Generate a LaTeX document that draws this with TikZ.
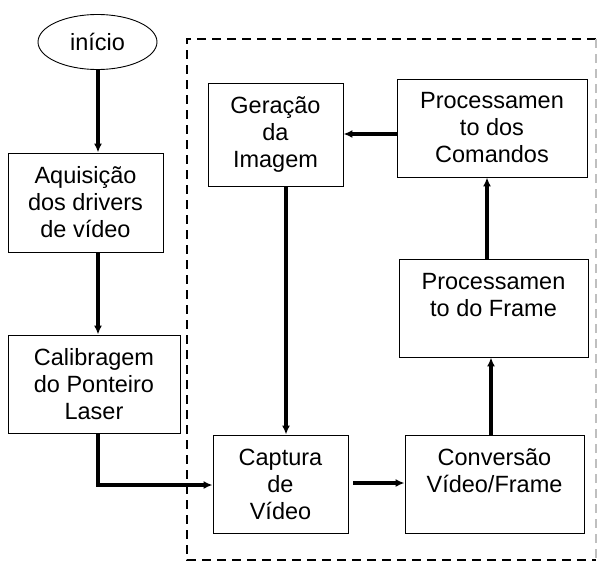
\documentclass[tikz,border=0pt]{standalone}
\usepackage{fontspec}
\setmainfont{Liberation Sans}
\usetikzlibrary{shapes,arrows.meta,positioning}

\tikzset{
  blk/.style={draw, line width=0.9pt, rectangle, align=center, inner sep=0pt,
    font=\fontsize{23.5}{27}\selectfont},
  flow/.style={line width=3.4pt, -{Latex[length=9pt,width=8pt]}},
}

\begin{document}
\begin{tikzpicture}[x=1pt, y=1pt]
    \useasboundingbox (0,0) rectangle (597,-562);
    % dashed frame
    \draw[line width=1.8pt, dash pattern=on 9pt off 6pt] (596,-39) -- (187,-39) -- (187,-560) -- (596,-560);
    \draw[line width=1.2pt, black!25, dash pattern=on 9pt off 6pt] (596,-39) -- (596,-560);

    \node (inicio) at (97.5,-42) [blk, ellipse, minimum width=119pt, minimum height=55pt] {início};
    \node (aquis) at (85.5,-202.5) [blk, minimum width=155pt, minimum height=99pt] {Aquisição\\dos drivers\\de vídeo};
    \node (calib) at (94,-384) [blk, minimum width=172pt, minimum height=98pt] {Calibragem\\do Ponteiro\\Laser};
    \node (captura) at (280.5,-484) [blk, minimum width=135pt, minimum height=98pt] {Captura\\de\\Vídeo};
    \node (geracao) at (275.5,-134.5) [blk, minimum width=135pt, minimum height=103pt] {Geração\\da\\Imagem};
    \node (comandos) at (492,-128) [blk, minimum width=190pt, minimum height=98pt] {Processamen\\to dos\\Comandos};
    \node (frame) at (493.5,-308) [blk, minimum width=189pt, minimum height=98pt] {Processamen\\to do Frame\\\mbox{}};
    \node (conversao) at (494.5,-484) [blk, minimum width=179pt, minimum height=98pt] {Conversão\\Vídeo/Frame\\\mbox{}};

    \coordinate (turn) at (98,-485);
    \draw[flow] (inicio.south -| 98,0) -- (aquis.north -| 98,0);
    \draw[flow] (aquis.south -| 98,0) -- (calib.north -| 98,0);
    \draw[flow] (calib.south -| turn) -- (turn) -- (turn -| captura.west);
    \draw[flow] (geracao.south -| 286,0) -- (captura.north -| 286,0);
    \draw[flow] (captura.east |- 0,-483) ++(5,0) -- (conversao.west |- 0,-483);
    \draw[flow] (conversao.north -| 491,0) -- (frame.south -| 491,0);
    \draw[flow] (frame.north -| 487,0) -- (comandos.south -| 487,0);
    \draw[flow] (comandos.west |- 0,-134) -- (geracao.east |- 0,-134);
\end{tikzpicture}
\end{document}
